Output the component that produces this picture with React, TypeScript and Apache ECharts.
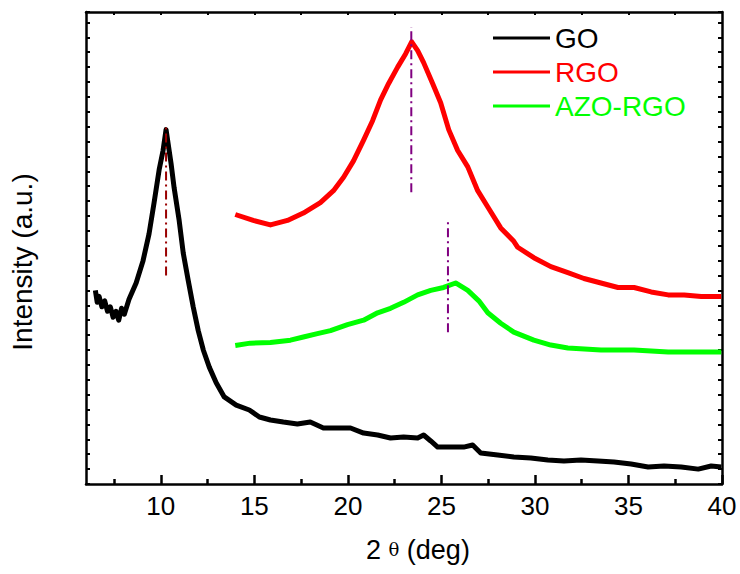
import React, { useEffect, useRef } from "react";
import * as echarts from "echarts";

const goData: number[][] = [
  [6.5, 13.0], [6.6, 12.2], [6.7, 12.6], [6.85, 11.9], [7.0, 12.3], [7.15, 11.6], [7.3, 11.9],
  [7.45, 11.2], [7.6, 11.6], [7.75, 11.0], [7.9, 11.8], [8.05, 11.4], [8.2, 12.0], [8.3, 12.4],
  [8.68, 13.5], [9.05, 15.0], [9.37, 16.8], [9.64, 18.9], [9.91, 21.1], [10.12, 22.4], [10.28, 23.8],
  [10.55, 21.5], [10.71, 19.9], [10.98, 17.7], [11.2, 15.5], [11.46, 13.7], [11.73, 11.9],
  [12.0, 10.3], [12.27, 9.0], [12.59, 7.85], [12.96, 6.8], [13.39, 5.85], [14.03, 5.3],
  [14.73, 4.97], [15.27, 4.5], [15.86, 4.3], [16.55, 4.16], [17.3, 4.03], [17.99, 4.16],
  [18.69, 3.76], [19.44, 3.76], [20.14, 3.76], [20.84, 3.42], [21.59, 3.29], [22.28, 3.09],
  [22.98, 3.15], [23.73, 3.09], [24.05, 3.29], [24.43, 2.89], [24.8, 2.48], [25.5, 2.48],
  [26.19, 2.48], [26.67, 2.62], [27.1, 2.08], [28.01, 1.95], [28.87, 1.81], [29.78, 1.74],
  [30.69, 1.61], [31.55, 1.54], [32.46, 1.61], [33.37, 1.54], [34.23, 1.48], [35.14, 1.34],
  [36.05, 1.14], [36.9, 1.21], [37.82, 1.14], [38.73, 1.0], [39.42, 1.21], [39.96, 1.14],
];

const rgoData: number[][] = [
  [13.98, 18.1], [14.94, 17.7], [15.86, 17.4], [16.77, 17.7], [17.62, 18.2], [18.53, 18.9],
  [19.23, 19.7], [19.77, 20.6], [20.3, 21.7], [20.84, 23.1], [21.32, 24.4], [21.75, 25.8],
  [22.18, 26.9], [22.66, 28.0], [23.09, 28.9], [23.41, 29.7], [23.73, 29.1], [24.05, 28.3],
  [24.53, 26.9], [24.96, 25.6], [25.39, 23.8], [25.87, 22.4], [26.41, 21.3], [26.94, 19.7],
  [27.48, 18.6], [28.17, 17.2], [28.87, 16.3], [29.08, 15.9], [29.94, 15.2], [30.85, 14.6],
  [31.76, 14.2], [32.62, 13.8], [33.53, 13.5], [34.44, 13.2], [35.3, 13.2], [36.21, 12.9],
  [37.12, 12.7], [37.98, 12.7], [38.89, 12.6], [39.96, 12.6],
];

const azoData: number[][] = [
  [13.98, 9.3], [14.78, 9.46], [15.86, 9.5], [16.93, 9.66], [17.62, 9.87], [18.37, 10.1],
  [19.07, 10.3], [19.98, 10.7], [20.84, 11.0], [21.59, 11.5], [22.28, 11.8], [22.98, 12.2],
  [23.73, 12.7], [24.43, 13.0], [25.12, 13.2], [25.76, 13.5], [26.41, 13.0], [27.0, 12.3],
  [27.48, 11.5], [28.17, 10.8], [28.87, 10.2], [29.94, 9.66], [30.85, 9.33], [31.76, 9.13],
  [33.53, 9.0], [35.3, 9.0], [37.12, 8.86], [38.89, 8.86], [39.96, 8.86],
];

const peakGO: number[][] = [[10.28, 14.0], [10.28, 24.0]];
const peakRGO: number[][] = [[23.39, 19.6], [23.39, 30.7]];
const peakAZO: number[][] = [[25.35, 10.2], [25.35, 17.8]];

const majorTicks = [10, 15, 20, 25, 30, 35, 40];
const minorTicks = [7.5, 12.5, 17.5, 22.5, 27.5, 32.5, 37.5];
const topTicks = [7.5, 10, 12.5, 15, 17.5, 20, 22.5, 25, 27.5, 30, 32.5, 35, 37.5];

const FONT = "'Liberation Sans', Arial, sans-serif";

export default function App() {
  const ref = useRef<HTMLDivElement>(null);
  useEffect(() => {
    if (!ref.current) return;
    const chart = echarts.init(ref.current, undefined, { renderer: "svg" });
    const axisLine = { show: true, lineStyle: { color: "#000", width: 2.5 } };
    const dashStyle = (color: string) => ({ color, width: 2, type: [9, 4, 2, 4] as number[] });
    const lineW = 5;
    chart.setOption({
      animation: false,
      backgroundColor: "#fff",
      grid: { left: 86, right: 18, top: 12, bottom: 90, containLabel: false },
      legend: {
        orient: "vertical",
        left: 488,
        top: 18,
        icon: "rect",
        itemWidth: 57,
        itemHeight: 3,
        itemGap: 4,
        textStyle: { fontFamily: FONT, fontSize: 28, lineHeight: 30 },
        data: [
          { name: "GO", textStyle: { color: "#000000" } },
          { name: "RGO", textStyle: { color: "#ff0000" } },
          { name: "AZO-RGO", textStyle: { color: "#00ff00" } },
        ],
      },
      xAxis: [
        {
          type: "value", min: 6, max: 40, position: "bottom",
          axisLine,
          axisTick: { show: true, inside: true, length: 9, lineStyle: { width: 2.5, color: "#000" }, customValues: majorTicks },
          axisLabel: { show: true, fontSize: 26, color: "#000", fontFamily: FONT, margin: 9, customValues: majorTicks },
          splitLine: { show: false },
        },
        {
          type: "value", min: 6, max: 40, position: "bottom",
          axisLine: { show: false },
          axisTick: { show: true, inside: true, length: 5, lineStyle: { width: 2.5, color: "#000" }, customValues: minorTicks },
          axisLabel: { show: false },
          splitLine: { show: false },
        },
        {
          type: "value", min: 6, max: 40, position: "top",
          axisLine,
          axisTick: { show: true, inside: true, length: 3, lineStyle: { width: 2, color: "#000" }, customValues: topTicks },
          axisLabel: { show: false },
          splitLine: { show: false },
        },
      ],
      yAxis: [
        {
          type: "value", min: 0, max: 31.7, interval: 1, position: "left",
          axisLine,
          axisTick: { show: true, inside: true, length: 4, lineStyle: { width: 2, color: "#000" } },
          axisLabel: { show: false },
          splitLine: { show: false },
        },
        {
          type: "value", min: 0, max: 31.7, interval: 1, position: "right",
          axisLine,
          axisTick: { show: true, inside: true, length: 4, lineStyle: { width: 2, color: "#000" } },
          axisLabel: { show: false },
          splitLine: { show: false },
        },
      ],
      series: [
        { name: "GO", type: "line", data: goData, showSymbol: false, symbol: "none", lineStyle: { color: "#000000", width: lineW, join: "round" }, itemStyle: { color: "#000000" } },
        { name: "RGO", type: "line", data: rgoData, showSymbol: false, symbol: "none", lineStyle: { color: "#ff0000", width: lineW, join: "round" }, itemStyle: { color: "#ff0000" } },
        { name: "AZO-RGO", type: "line", data: azoData, showSymbol: false, symbol: "none", lineStyle: { color: "#00ff00", width: lineW, join: "round" }, itemStyle: { color: "#00ff00" } },
        { name: "GO peak", type: "line", data: peakGO, showSymbol: false, symbol: "none", lineStyle: dashStyle("#990000"), z: 5 },
        { name: "RGO peak", type: "line", data: peakRGO, showSymbol: false, symbol: "none", lineStyle: dashStyle("#800080"), z: 5 },
        { name: "AZO-RGO peak", type: "line", data: peakAZO, showSymbol: false, symbol: "none", lineStyle: dashStyle("#800080"), z: 5 },
      ],
      graphic: [
        {
          type: "text", left: 366, top: 536,
          style: {
            text: "2 {t|θ} (deg)",
            font: `27px ${FONT}`,
            fill: "#000",
            rich: { t: { fontFamily: "'DejaVu Serif', serif", fontSize: 18, fill: "#000" } },
          },
        },
        {
          type: "text", x: 8, y: 262, rotation: Math.PI / 2,
          style: {
            text: "Intensity (a.u.)",
            font: `28px ${FONT}`,
            fill: "#000",
            align: "center",
            verticalAlign: "top",
          },
        },
      ],
    });
    return () => chart.dispose();
  }, []);
  return <div ref={ref} style={{ position: "absolute", left: 0, top: 0, width: 740, height: 574 }} />;
}
